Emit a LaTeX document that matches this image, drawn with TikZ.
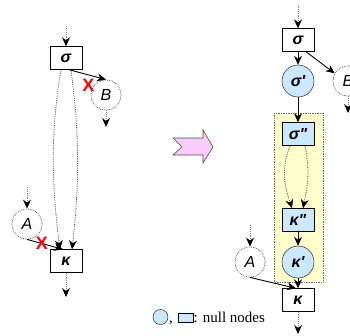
\documentclass[tikz,border=0pt]{standalone}
\usepackage{fontspec}
\setmainfont{Liberation Serif}
\newfontfamily\grkfont{Liberation Sans}
\usetikzlibrary{arrows.meta, positioning, calc}

\definecolor{nullblue}{RGB}{204,232,255}
\definecolor{cellyellow}{RGB}{255,255,204}
\definecolor{shiftpink}{RGB}{249,204,249}

\tikzset{
  opbox/.style={draw, fill=white, minimum width=32, minimum height=23, inner sep=0,
    font=\fontsize{16}{16}\grkfont\bfseries\itshape},
  nullbox/.style={opbox, fill=nullblue},
  nullcirc/.style={circle, draw, fill=nullblue, minimum size=32, inner sep=0,
    font=\fontsize{16}{16}\grkfont\bfseries\itshape},
  extnode/.style={circle, draw=black!65, densely dotted, line width=0.8pt, minimum size=30, inner sep=0,
    font=\fontsize{16}{16}\grkfont\itshape},
  sflow/.style={-{Stealth[length=9pt,width=8pt]}, line width=0.9pt},
  dflow/.style={-{Stealth[length=9pt,width=8pt,black]}, densely dotted, draw=gray, line width=0.9pt},
  cflow/.style={-{Stealth[length=9pt,width=8pt,black]}, densely dotted, draw=black!70, line width=0.8pt},
  cut/.style={text=red, font=\fontsize{18}{18}\grkfont\bfseries, inner sep=0},
}

\begin{document}
\begin{tikzpicture}[x=1pt, y=-1pt]
\useasboundingbox (0,0) rectangle (350,335);

%// before: original graph
\node[opbox] (s) at (66,58) {σ};
\node[opbox] (k) at (66,261) {κ};
\node[extnode] (B) at (106,95) {B};
\node[extnode] (A) at (27,224) {A};
\coordinate (sin) at (66,26);
\coordinate (bout) at (106,127);
\coordinate (ain) at (27,187);
\coordinate (kout) at (66,297);

\draw[dflow] (sin) -- (s);
\draw[dflow] (B) -- (bout);
\draw[dflow] (ain) -- (A);
\draw[dflow] (k) -- (kout);
\draw[sflow] ([xshift=3]s.south) -- (B.north);
\draw[sflow] (A.south) -- ([xshift=-3]k.north);
\draw[cflow] ([xshift=-5]s.south) .. controls +(-10,60) and +(-9,-70) .. ([xshift=-6]k.north);
\draw[cflow] ([xshift=5]s.south) .. controls +(8,60) and +(8,-70) .. ([xshift=6]k.north);
\node[cut] (x1) at (88.5,85) {X};
\node[cut] (x2) at (42,243) {X};

%// transformation arrow
\draw[fill=shiftpink, draw=black!70, line width=0.6pt]
  (173,138) -- (203,138) -- (203,130) -- (213,147) -- (203,163) -- (203,155)
  -- (173,155) -- (182,147) -- cycle;

%// after: null nodes inserted
\draw[fill=cellyellow, draw=black!60, densely dotted, line width=0.7pt] (274,113) rectangle (323,282);

\node[opbox] (s2) at (298,40) {σ};
\node[nullcirc] (s1) at (298,81) {σ'};
\node[nullbox] (s0) at (298,134) {σ"};
\node[nullbox] (k0) at (298,220) {κ"};
\node[nullcirc] (k1) at (298,262) {κ'};
\node[opbox] (k2) at (298,300) {κ};
\node[extnode] (B2) at (348,81) {B};
\node[extnode] (A2) at (250,262) {A};
\coordinate (sin2) at (298,5);
\coordinate (bout2) at (348,113);
\coordinate (ain2) at (250,225);
\coordinate (kout2) at (298,334);

\draw[dflow] (sin2) -- (s2);
\draw[sflow] (s2) -- (s1);
\draw[sflow] (s1) -- (s0);
\draw[sflow] (k0) -- (k1);
\draw[sflow] (k1) -- (k2);
\draw[sflow] ([xshift=8]s2.south) -- (B2.150);
\draw[dflow] (B2) -- (bout2);
\draw[dflow] (ain2) -- (A2);
\draw[sflow] (A2.south) -- ([xshift=-2]k2.north);
\draw[dflow] (k2) -- (kout2);
\draw[cflow] ([xshift=-8]s0.south) .. controls +(-9,25) and +(-8,-25) .. ([xshift=-6]k0.north);
\draw[cflow] ([xshift=7]s0.south) .. controls +(5,25) and +(5,-25) .. ([xshift=5]k0.north);

%// legend
\node[circle, draw, fill=nullblue, minimum size=15, inner sep=0] (lc) at (160.5,317) {};
\node[inner sep=0, font=\fontsize{15}{15}\selectfont, anchor=base west] (lcomma) at (169,322) {,};
\node[draw, fill=nullblue, minimum width=15, minimum height=9, inner sep=0] (lb) at (185.5,318) {};
\node[inner sep=0, font=\fontsize{15}{15}\selectfont, anchor=base west] (ltext) at (193.5,322) {: null nodes};
\end{tikzpicture}
\end{document}
